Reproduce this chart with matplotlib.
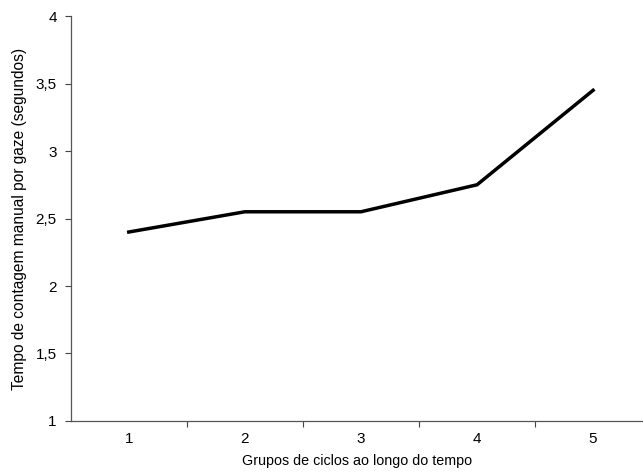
import matplotlib
matplotlib.use("Agg")
from matplotlib import pyplot as plt

plt.rcParams['font.family'] = ['Liberation Sans', 'DejaVu Sans']

grupos = [1, 2, 3, 4, 5]
tempo = [2.40, 2.55, 2.55, 2.75, 3.45]
y_ticks = [1, 1.5, 2, 2.5, 3, 3.5, 4]
y_tick_labels = ['1', '1,5', '2', '2,5', '3', '3,5', '4']

fig = plt.figure(figsize=(6.43, 4.73), dpi=100)
ax = fig.add_axes([0.110, 0.110, 0.89, 0.856])

ax.plot(grupos, tempo, color='black', linewidth=2.5, solid_joinstyle='miter')

ax.set_xlim(0.5, 5.43)
ax.set_ylim(1, 4)
ax.set_yticks(y_ticks)
ax.set_yticklabels(y_tick_labels)
ax.set_xticks(grupos)
ax.set_xticks([1.5, 2.5, 3.5, 4.5], minor=True)

ax.tick_params(axis='x', which='major', length=0, pad=8, labelsize=11)
ax.tick_params(axis='x', which='minor', length=4, width=0.8, color='#444444', direction='out')
ax.tick_params(axis='y', which='major', length=4, width=0.8, color='#444444', labelsize=11, pad=6)

for side in ['top', 'right']:
    ax.spines[side].set_visible(False)
for side in ['left', 'bottom']:
    ax.spines[side].set_color('#555555')
    ax.spines[side].set_linewidth(0.9)
    ax.spines[side].set_linestyle((0, (4, 1)))

ax.set_xlabel('Grupos de ciclos ao longo do tempo', fontsize=10.3, labelpad=6)
ax.set_ylabel('Tempo de contagem manual por gaze (segundos)', fontsize=11.2, labelpad=6)

plt.savefig('out.png', dpi=100)
